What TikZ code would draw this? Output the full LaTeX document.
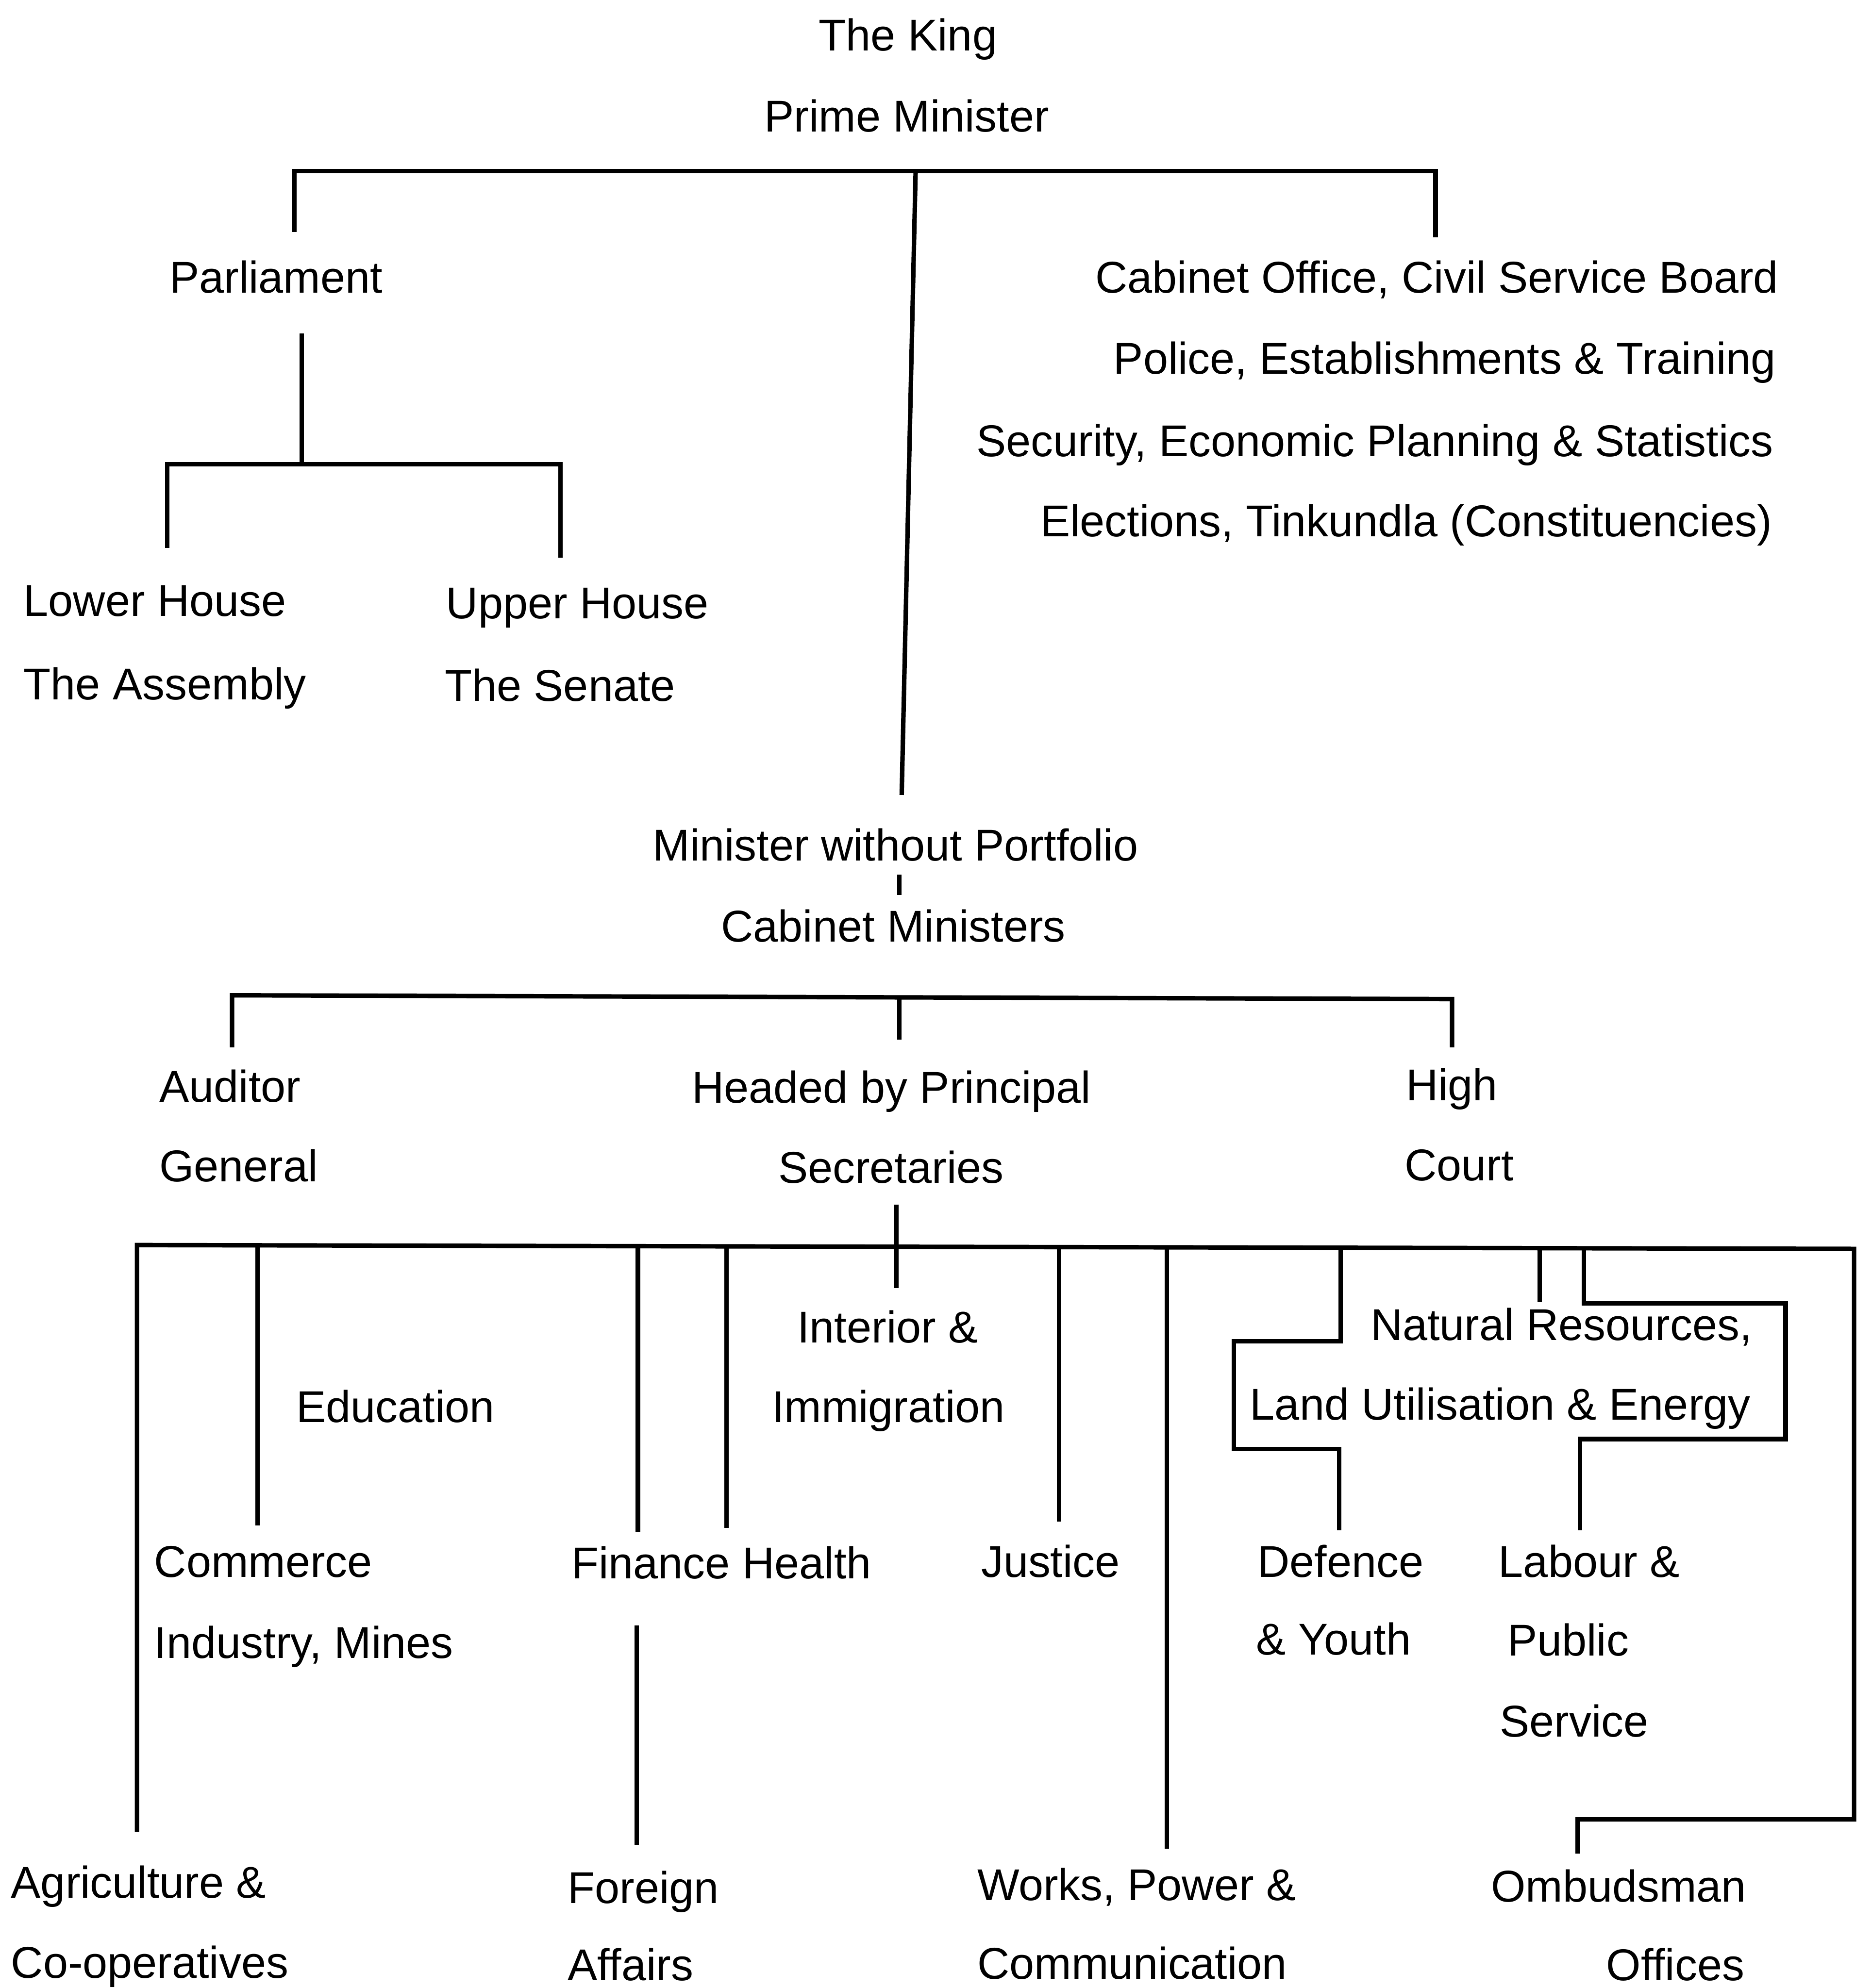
\documentclass[tikz,border=0pt]{standalone}
\usepackage{fontspec}
\setmainfont{Liberation Sans}
\begin{document}
\begin{tikzpicture}[x=0.1mm,y=-0.1mm,
  lbl/.style={anchor=base west,inner sep=0pt,font=\fontsize{10}{12}\selectfont},
  lblr/.style={lbl,anchor=base east},
  ln/.style={line width=1pt}]
\useasboundingbox (0,0) rectangle (1476,1568);
% ---- texts
\node[lbl] (king) at (645,40) {The King};
\node[lbl] (pm) at (602,104) {Prime Minister};
\node[lbl] (parl) at (133,231) {Parliament};
\node[lbl] (lh1) at (18,486) {Lower House};
\node[lbl] (lh2) at (18,552) {The Assembly};
\node[lbl] (uh1) at (351,488) {Upper House};
\node[lbl] (uh2) at (350,553) {The Senate};
\node[lblr] (co1) at (1403,231) {Cabinet Office, Civil Service Board};
\node[lblr] (co2) at (1401,295) {Police, Establishments \& Training};
\node[lblr] (co3) at (1399,360) {Security, Economic Planning \& Statistics};
\node[lblr] (co4) at (1398,423) {Elections, Tinkundla (Constituencies)};
\node[lbl] (mwp) at (514,679) {Minister without Portfolio};
\node[lbl] (cm) at (568,743) {Cabinet Ministers};
\node[lbl] (ag1) at (125,869) {Auditor};
\node[lbl] (ag2) at (125,932) {General};
\node[lbl] (ps1) at (545,870) {Headed by Principal};
\node[lbl] (ps2) at (613,933) {Secretaries};
\node[lbl] (hc1) at (1108,868) {High};
\node[lbl] (hc2) at (1107,931) {Court};
\node[lbl] (edu) at (233,1122) {Education};
\node[lbl] (int1) at (628,1059) {Interior \&};
\node[lbl] (int2) at (608,1122) {Immigration};
\node[lbl] (nr1) at (1080,1057) {Natural Resources,};
\node[lbl] (nr2) at (985,1120) {Land Utilisation \& Energy};
\node[lbl] (com1) at (121,1244) {Commerce};
\node[lbl] (com2) at (121,1308) {Industry, Mines};
\node[lbl] (fin) at (450,1245) {Finance Health};
\node[lbl] (jus) at (773,1244) {Justice};
\node[lbl] (def1) at (991,1244) {Defence};
\node[lbl] (def2) at (990,1305) {\& Youth};
\node[lbl] (lab1) at (1181,1244) {Labour \&};
\node[lbl] (lab2) at (1188,1306) {Public};
\node[lbl] (lab3) at (1182,1370) {Service};
\node[lbl] (agr1) at (8,1497) {Agriculture \&};
\node[lbl] (agr2) at (8,1560) {Co-operatives};
\node[lbl] (for1) at (447,1501) {Foreign};
\node[lbl] (for2) at (447,1562) {Affairs};
\node[lbl] (wks1) at (770,1499) {Works, Power \&};
\node[lbl] (wks2) at (770,1561) {Communication};
\node[lbl] (omb1) at (1175,1500) {Ombudsman};
\node[lbl] (omb2) at (1266,1562) {Offices};
% ---- named points
\coordinate (b1l) at (232,135);
\coordinate (b1r) at (1132,135);
\coordinate (b1m) at (722,135);
\coordinate (pdrop) at (232,183);
\coordinate (cdrop) at (1132,187);
\coordinate (mdrop) at (711,627);
\coordinate (ptop) at (238,263);
\coordinate (b2m) at (238,366);
\coordinate (b2l) at (132,366);
\coordinate (b2r) at (442,366);
\coordinate (lhd) at (132,432);
\coordinate (uhd) at (442,440);
\coordinate (tk1) at (709,690);
\coordinate (tk2) at (709,706);
\coordinate (b3l) at (183,785);
\coordinate (b3r) at (1145,788);
\coordinate (b3m) at (709,787);
\coordinate (agd) at (183,826);
\coordinate (hcd) at (1145,826);
\coordinate (psd) at (709,820);
\coordinate (st1) at (707,950);
\coordinate (st2) at (707,1016);
\coordinate (b4l) at (108,982);
\coordinate (b4r) at (1462,985);
\coordinate (ombc) at (1462,1435);
\coordinate (omba) at (1244,1435);
\coordinate (ombd) at (1244,1462);
\coordinate (agrd) at (108,1445);
% ---- connectors
\draw[ln] (pdrop) -- (b1l) -- (b1r) -- (cdrop);
\draw[ln] (b1m) -- (mdrop);
\draw[ln] (ptop) -- (b2m);
\draw[ln] (lhd) -- (b2l) -- (b2r) -- (uhd);
\draw[ln] (tk1) -- (tk2);
\draw[ln] (agd) -- (b3l) -- (b3r) -- (hcd);
\draw[ln] (b3m) -- (psd);
\draw[ln] (st1) -- (st2);
\draw[ln] (agrd) -- (b4l) -- (b4r) -- (ombc) -- (omba) -- (ombd);
\draw[ln] (203,983) -- (203,1203);
\draw[ln] (503,983) -- (503,1208);
\draw[ln] (573,984) -- (573,1205);
\draw[ln] (835,984) -- (835,1200);
\draw[ln] (920,984) -- (920,1458);
\draw[ln] (1057,985) -- (1057,1058) -- (973,1058) -- (973,1143) -- (1056,1143) -- (1056,1207);
\draw[ln] (1214,985) -- (1214,1027);
\draw[ln] (1249,985) -- (1249,1028) -- (1408,1028) -- (1408,1135) -- (1246,1135) -- (1246,1207);
\draw[ln] (502,1282) -- (502,1455);
\end{tikzpicture}
\end{document}
